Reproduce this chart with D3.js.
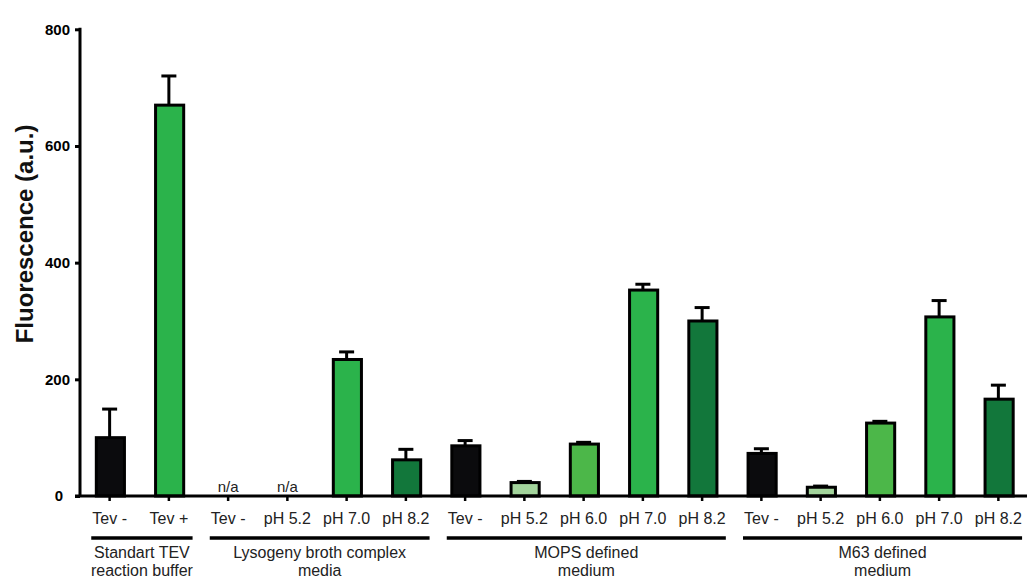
<!DOCTYPE html>
<html>
<head>
<meta charset="utf-8">
<script src="https://cdn.jsdelivr.net/npm/d3@7/dist/d3.min.js"></script>
<style>
  html, body { margin: 0; padding: 0; background: #ffffff; }
  svg { display: block; font-family: "Liberation Sans", Arial, sans-serif; }
</style>
</head>
<body>
<svg id="chart" width="1027" height="581"></svg>
<script>
// Condition labels along the x axis (one per bar)
const categories = ["Tev -", "Tev +", "Tev -", "pH 5.2", "pH 7.0", "pH 8.2",
                    "Tev -", "pH 5.2", "pH 6.0", "pH 7.0", "pH 8.2",
                    "Tev -", "pH 5.2", "pH 6.0", "pH 7.0", "pH 8.2"];
// Mean fluorescence (a.u.); null = not measured (n/a)
const values = [100, 670, null, null, 234, 62,
                86, 23, 89, 353, 300,
                73, 15, 125, 307, 166];
// Upper error (a.u.)
const errors = [49, 50, null, null, 13, 18,
                9, 2, 3, 10, 23,
                8, 2, 3, 28, 24];
// Condition kind, used for the fill colour
const kinds = ["ctrl", "tev", "ctrl", "ph52", "ph70", "ph82",
               "ctrl", "ph52", "ph60", "ph70", "ph82",
               "ctrl", "ph52", "ph60", "ph70", "ph82"];
// Medium groups: two-line captions and number of bars in each
const groupNames = [["Standart TEV", "reaction buffer"],
                    ["Lysogeny broth complex", "media"],
                    ["MOPS defined", "medium"],
                    ["M63 defined", "medium"]];
const groupSizes = [2, 4, 5, 5];
const yTicks = [0, 200, 400, 600, 800];
const yLabel = "Fluorescence (a.u.)";

const colors = {
  ctrl: "#0b0b0d",
  tev:  "#2bb34b",
  ph52: "#a3d49c",
  ph60: "#4cb749",
  ph70: "#2bb34b",
  ph82: "#12773b"
};

const svg = d3.select("#chart");
const x0 = 80, x1 = 1028, yBase = 496, yTop = 29.3;

const x = d3.scaleBand()
  .domain(d3.range(categories.length))
  .range([x0, x1])
  .paddingInner(0.5)
  .paddingOuter(0.25);

const y = d3.scaleLinear().domain([0, 800]).range([yBase, yTop]);

const bw = x.bandwidth();
const cx = i => x(i) + bw / 2;

const data = values.map((v, i) => ({ i, v, e: errors[i], k: kinds[i] }));
const measured = data.filter(d => d.v !== null);

// Error bars (upper only)
const eb = svg.append("g").attr("stroke", "#000").attr("stroke-width", 3);
eb.selectAll("line.stem").data(measured).join("line")
  .attr("x1", d => cx(d.i)).attr("x2", d => cx(d.i))
  .attr("y1", d => y(d.v)).attr("y2", d => y(d.v + d.e));
eb.selectAll("line.cap").data(measured).join("line")
  .attr("x1", d => cx(d.i) - 7.5).attr("x2", d => cx(d.i) + 7.5)
  .attr("y1", d => y(d.v + d.e)).attr("y2", d => y(d.v + d.e));

// Bars
svg.append("g").selectAll("rect").data(measured).join("rect")
  .attr("x", d => x(d.i) + 1.5)
  .attr("width", bw - 1.5)
  .attr("y", d => y(d.v))
  .attr("height", d => yBase - y(d.v))
  .attr("fill", d => colors[d.k])
  .attr("stroke", "#000")
  .attr("stroke-width", 3);

// n/a markers
svg.append("g").selectAll("text").data(data.filter(d => d.v === null)).join("text")
  .attr("x", d => cx(d.i))
  .attr("y", yBase - 4)
  .attr("text-anchor", "middle")
  .attr("font-size", 15)
  .attr("fill", "#222")
  .text("n/a");

// Y axis
const yAxis = d3.axisLeft(y).tickValues(yTicks).tickSize(5).tickPadding(5).tickFormat(d3.format("d"));
const gy = svg.append("g").attr("transform", `translate(${x0},0)`).call(yAxis);
gy.select(".domain").attr("stroke-width", 3).attr("d", `M0,${yTop - 1.5}V${yBase}`);
gy.selectAll(".tick line").attr("stroke-width", 3);
gy.selectAll(".tick text")
  .attr("font-size", 15).attr("font-weight", "bold").attr("fill", "#000")
  .attr("font-family", "Liberation Sans, Arial, sans-serif")
  .attr("dx", d => d === 0 ? -7 : 0);

// X axis
const xAxis = d3.axisBottom(x).tickSize(5).tickPadding(12).tickFormat(i => categories[i]);
const gx = svg.append("g").attr("transform", `translate(0,${yBase})`).call(xAxis);
gx.select(".domain").attr("stroke-width", 3).attr("d", `M${x0 - 5},0H${x1}`);
gx.selectAll(".tick line").attr("stroke-width", 2.5);
gx.selectAll(".tick text")
  .attr("font-size", 16).attr("fill", "#222")
  .attr("font-family", "Liberation Sans, Arial, sans-serif");

// Group brackets and captions
let start = 0;
const step = x.step();
groupSizes.forEach((n, g) => {
  const a = cx(start) - 0.31 * step;
  const b = cx(start + n - 1) + 0.40 * step;
  svg.append("line")
    .attr("x1", a).attr("x2", b).attr("y1", 538).attr("y2", 538)
    .attr("stroke", "#000").attr("stroke-width", 3.5);
  const t = svg.append("text")
    .attr("x", (a + b) / 2).attr("y", 558)
    .attr("text-anchor", "middle").attr("font-size", 16).attr("fill", "#222");
  groupNames[g].forEach((line, j) => {
    t.append("tspan").attr("x", (a + b) / 2).attr("dy", j === 0 ? 0 : 17.5).text(line);
  });
  start += n;
});

// Y axis title
svg.append("text")
  .attr("transform", `translate(33,234) rotate(-90)`)
  .attr("text-anchor", "middle")
  .attr("font-size", 24).attr("font-weight", "bold").attr("fill", "#111")
  .text(yLabel);
</script>
</body>
</html>
